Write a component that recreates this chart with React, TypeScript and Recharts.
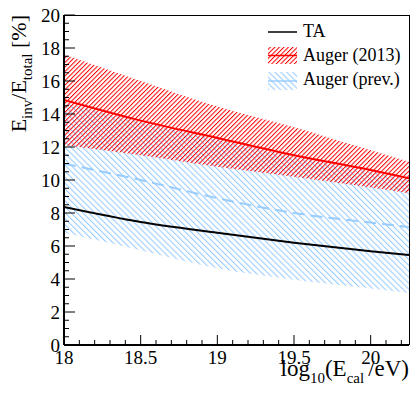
import React from 'react';
import { ComposedChart, Area, Line, XAxis, YAxis } from 'recharts';

// ---- data ----
const energies = [18, 18.5, 19, 19.5, 20, 20.25];
const taValues = [8.36, 7.45, 6.8, 6.2, 5.68, 5.45];
const auger2013Values = [14.85, 13.6, 12.55, 11.5, 10.6, 10.1];
const auger2013Upper = [17.6, 16.0, 14.45, 13.2, 11.8, 11.1];
const auger2013Lower = [12.1, 11.5, 10.8, 10.2, 9.55, 9.2];
const augerPrevValues = [11.0, 10.0, 8.9, 8.0, 7.42, 7.15];
const augerPrevUpper = [14.7, 13.5, 12.45, 11.4, 10.5, 10.0];
const augerPrevLower = [6.8, 5.75, 4.65, 3.95, 3.42, 3.15];

const xMajorTicks = [18, 18.5, 19, 19.5, 20];
const xMinorTicks = [18.1, 18.2, 18.3, 18.4, 18.6, 18.7, 18.8, 18.9, 19.1, 19.2, 19.3, 19.4, 19.6, 19.7, 19.8, 19.9, 20.1, 20.2];
const yMajorTicks = [0, 2, 4, 6, 8, 10, 12, 14, 16, 18, 20];
const yMinorTicks = [0.5, 1, 1.5, 2.5, 3, 3.5, 4.5, 5, 5.5, 6.5, 7, 7.5, 8.5, 9, 9.5, 10.5, 11, 11.5, 12.5, 13, 13.5, 14.5, 15, 15.5, 16.5, 17, 17.5, 18.5, 19, 19.5];

const seriesNames = ['TA', 'Auger (2013)', 'Auger (prev.)'];

const data = energies.map((x, i) => ({
  x,
  ta: taValues[i],
  red: auger2013Values[i],
  redBand: [auger2013Lower[i], auger2013Upper[i]],
  blue: augerPrevValues[i],
  blueBand: [augerPrevLower[i], augerPrevUpper[i]],
}));

const FONT = "'Liberation Serif', 'Times New Roman', Times, serif";
const TXT: React.CSSProperties = { fontFamily: FONT };
const RED = '#ff0000';
const BLUE = '#99ccff';

const W = 411;
const H = 395;
const PLOT_L = 64;
const PLOT_R = 409;
const PLOT_T = 15;
const PLOT_B = 345;

const isIn = (arr: number[], v: number) => arr.some((m) => Math.abs(m - v) < 1e-6);

const XTick = (props: any) => {
  const { x, y, payload } = props;
  const major = isIn(xMajorTicks, payload.value);
  return (
    <g>
      <line x1={x} x2={x} y1={y} y2={y - (major ? 10 : 5)} stroke="#000" strokeWidth={1} />
      {major && (
        <text x={x} y={y + 19} textAnchor="middle" fontSize={19} style={TXT} fill="#000">
          {String(payload.value)}
        </text>
      )}
    </g>
  );
};

const YTick = (props: any) => {
  const { x, y, payload } = props;
  const major = isIn(yMajorTicks, payload.value);
  return (
    <g>
      <line x1={x} x2={x + (major ? 11 : 5)} y1={y} y2={y} stroke="#000" strokeWidth={1} />
      {major && (
        <text x={x - 4} y={y + 6.5} textAnchor="end" fontSize={19} style={TXT} fill="#000">
          {String(payload.value)}
        </text>
      )}
    </g>
  );
};

export default function App() {
  const allX = [...xMajorTicks, ...xMinorTicks].sort((a, b) => a - b);
  const allY = [...yMajorTicks, ...yMinorTicks].sort((a, b) => a - b);
  return (
    <div style={{ position: 'absolute', left: 0, top: 0, width: W, height: H, background: '#fff', fontFamily: FONT }}>
      <ComposedChart
        width={W}
        height={H}
        data={data}
        margin={{ top: PLOT_T, right: W - PLOT_R, bottom: 0, left: 0 }}
      >
        <defs>
          <pattern id="hatchRed" patternUnits="userSpaceOnUse" width="3.2" height="10" patternTransform="rotate(45)">
            <line x1="0.5" y1="0" x2="0.5" y2="10" stroke={RED} strokeWidth="1" />
          </pattern>
          <pattern id="hatchBlue" patternUnits="userSpaceOnUse" width="4.2" height="10" patternTransform="rotate(-45)">
            <line x1="0.5" y1="0" x2="0.5" y2="10" stroke={BLUE} strokeWidth="1.1" />
          </pattern>
        </defs>
        <XAxis
          dataKey="x"
          type="number"
          domain={[18, 20.25]}
          allowDataOverflow
          ticks={allX}
          interval={0}
          tick={<XTick />}
          tickLine={false}
          tickSize={0}
          tickMargin={0}
          height={H - PLOT_B}
          axisLine={{ stroke: '#000', strokeWidth: 2 }}
        />
        <YAxis
          type="number"
          domain={[0, 20]}
          allowDataOverflow
          ticks={allY}
          interval={0}
          tick={<YTick />}
          tickLine={false}
          tickSize={0}
          tickMargin={0}
          width={PLOT_L}
          axisLine={{ stroke: '#000', strokeWidth: 2 }}
        />
        <Area
          dataKey="blueBand"
          type="monotone"
          stroke="none"
          fill="url(#hatchBlue)"
          fillOpacity={1}
          isAnimationActive={false}
          name={seriesNames[2]}
        />
        <Area
          dataKey="redBand"
          type="monotone"
          stroke="none"
          fill="url(#hatchRed)"
          fillOpacity={1}
          isAnimationActive={false}
          name={seriesNames[1]}
        />
        <Line dataKey="blue" type="monotone" stroke={BLUE} strokeWidth={2} strokeDasharray="12 6" dot={false} isAnimationActive={false} />
        <Line dataKey="red" type="monotone" stroke={RED} strokeWidth={2} dot={false} isAnimationActive={false} />
        <Line dataKey="ta" type="monotone" stroke="#000" strokeWidth={2} dot={false} isAnimationActive={false} name={seriesNames[0]} />
      </ComposedChart>
      <svg width={W} height={H} style={{ position: 'absolute', left: 0, top: 0, pointerEvents: 'none' }}>
        <defs>
          <pattern id="legRed" patternUnits="userSpaceOnUse" width="3.2" height="10" patternTransform="rotate(45)">
            <line x1="0.5" y1="0" x2="0.5" y2="10" stroke={RED} strokeWidth="1" />
          </pattern>
          <pattern id="legBlue" patternUnits="userSpaceOnUse" width="4.2" height="10" patternTransform="rotate(-45)">
            <line x1="0.5" y1="0" x2="0.5" y2="10" stroke={BLUE} strokeWidth="1.1" />
          </pattern>
        </defs>
        {/* frame top/right */}
        <line x1={PLOT_L} x2={PLOT_R + 0.5} y1={PLOT_T + 0.5} y2={PLOT_T + 0.5} stroke="#000" strokeWidth={1} />
        <line x1={PLOT_R + 0.5} x2={PLOT_R + 0.5} y1={PLOT_T} y2={PLOT_B} stroke="#000" strokeWidth={1} />
        {/* legend */}
        <line x1={268} x2={297} y1={32} y2={32} stroke="#000" strokeWidth={1.5} />
        <text x={303} y={37} fontSize={18} style={TXT} fill="#000">{seriesNames[0]}</text>
        <rect x={268} y={47} width={29} height={17} fill="url(#legRed)" />
        <line x1={268} x2={297} y1={55.5} y2={55.5} stroke={RED} strokeWidth={1.5} />
        <text x={303} y={61} fontSize={18} style={TXT} fill="#000">{seriesNames[1]}</text>
        <rect x={268} y={72} width={29} height={18} fill="url(#legBlue)" />
        <line x1={268} x2={297} y1={81} y2={81} stroke={BLUE} strokeWidth={1.5} />
        <text x={303} y={85} fontSize={18} style={TXT} fill="#000">{seriesNames[2]}</text>
        {/* x title */}
        <text x={409} y={376} textAnchor="end" fontSize={23} style={TXT} fill="#000">
          log<tspan fontSize={15} dy={7}>10</tspan>
          <tspan dy={-7}>(E</tspan>
          <tspan fontSize={15} dy={7}>cal</tspan>
          <tspan dy={-7} dx={4}>/eV)</tspan>
        </text>
        {/* y title */}
        <text
          x={26}
          y={15}
          transform="rotate(-90, 26, 15)"
          textAnchor="end"
          fontSize={22}
          style={TXT}
          fill="#000"
        >
          E<tspan fontSize={15} dy={6}>inv</tspan>
          <tspan dy={-6}>/E</tspan>
          <tspan fontSize={15} dy={6}>total</tspan>
          <tspan dy={-6}> [%]</tspan>
        </text>
      </svg>
    </div>
  );
}
